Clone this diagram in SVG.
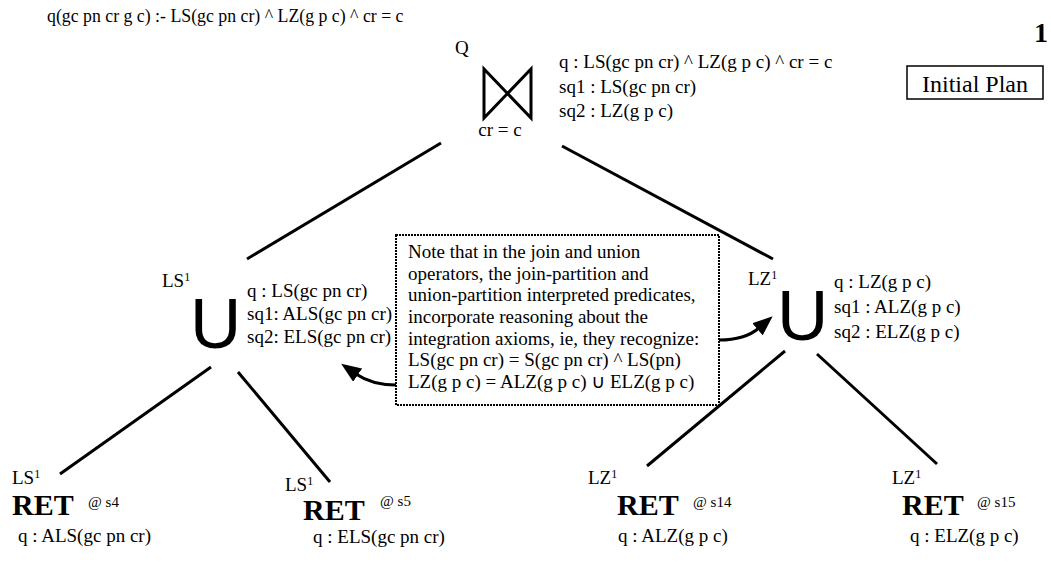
<svg xmlns="http://www.w3.org/2000/svg" width="1051" height="565" viewBox="0 0 1051 565">
<style>
text{font-family:"Liberation Serif","Times New Roman",serif;font-size:19px;fill:#000}
.sup{font-size:12px}
.ret{font-size:30px;font-weight:bold}
.at{font-size:15px}
.u{font-family:"Liberation Sans",Arial,sans-serif;font-size:71px}
.edge{stroke:#000;stroke-width:3;fill:none}
.curve{stroke:#000;stroke-width:3;fill:none}
</style>
<defs>
<marker id="ah" viewBox="0 0 20 16" refX="2" refY="8" markerWidth="20" markerHeight="16" markerUnits="userSpaceOnUse" orient="auto">
<path d="M0,0 L20,8 L0,16 z" fill="#000"/>
</marker>
</defs>
<rect width="1051" height="565" fill="#fff"/>
<text x="47" y="22" style="font-size:17.8px">q(gc pn cr g c) :- LS(gc pn cr) ^ LZ(g p c) ^ cr = c</text>
<text x="1034" y="42" style="font-size:28px;font-weight:bold">1</text>
<g id="label-initial-plan">
<rect x="907" y="66" width="136" height="33" fill="none" stroke="#000" stroke-width="1.5"/>
<text x="975" y="92" text-anchor="middle" style="font-size:24px">Initial Plan</text>
</g>
<g id="connectors">
<line class="edge" x1="441" y1="143" x2="247" y2="259"/>
<line class="edge" x1="562" y1="146" x2="773" y2="259"/>
<line class="edge" x1="211" y1="367" x2="60" y2="474"/>
<line class="edge" x1="238" y1="372" x2="330" y2="482"/>
<line class="edge" x1="785" y1="351" x2="647" y2="466"/>
<line class="edge" x1="817" y1="354" x2="937" y2="464"/>
<path class="curve" d="M396,385 Q372,385 356,374" marker-end="url(#ah)"/>
<path class="curve" d="M719,340 Q745,340 759,328" marker-end="url(#ah)"/>
</g>
<g id="join-Q">
<text x="455" y="54">Q</text>
<path d="M484,69 L484,118 L531,69 L531,118 Z" fill="none" stroke="#000" stroke-width="3" stroke-linejoin="miter"/>
<text x="500" y="136" text-anchor="middle">cr = c</text>
<text x="559" y="68">q : LS(gc pn cr) ^ LZ(g p c) ^ cr = c</text>
<text x="559" y="93">sq1 : LS(gc pn cr)</text>
<text x="559" y="117">sq2 : LZ(g p c)</text>
</g>
<g id="union-LS">
<text x="162" y="287">LS<tspan class="sup" dy="-6">1</tspan></text>
<text class="u" x="190" y="348">U</text>
<text x="247" y="297">q : LS(gc pn cr)</text>
<text x="247" y="320">sq1: ALS(gc pn cr)</text>
<text x="247" y="343">sq2: ELS(gc pn cr)</text>
</g>
<g id="union-LZ">
<text x="748" y="285">LZ<tspan class="sup" dy="-6">1</tspan></text>
<text class="u" x="777" y="340">U</text>
<text x="834" y="288">q : LZ(g p c)</text>
<text x="834" y="313">sq1 : ALZ(g p c)</text>
<text x="834" y="338">sq2 : ELZ(g p c)</text>
</g>
<g id="note">
<rect x="396" y="235" width="323" height="170" fill="#fff" stroke="#000" stroke-width="2" stroke-dasharray="2 1"/>
<text x="408" y="258">Note that in the join and union</text>
<text x="408" y="280">operators, the join-partition and</text>
<text x="408" y="301">union-partition interpreted predicates,</text>
<text x="408" y="323">incorporate reasoning about the</text>
<text x="408" y="345">integration axioms, ie, they recognize:</text>
<text x="408" y="366">LS(gc pn cr) = S(gc pn cr) ^ LS(pn)</text>
<text x="408" y="388">LZ(g p c) = ALZ(g p c) <tspan style="font-family:'DejaVu Sans',sans-serif">∪</tspan> ELZ(g p c)</text>
</g>
<g id="ret-s4">
<text x="12" y="484">LS<tspan class="sup" dy="-6">1</tspan></text>
<text class="ret" x="12" y="515">RET</text>
<text class="at" x="88" y="507">@ s4</text>
<text x="18" y="542">q : ALS(gc pn cr)</text>
</g>
<g id="ret-s5">
<text x="285" y="491">LS<tspan class="sup" dy="-6">1</tspan></text>
<text class="ret" x="303" y="520">RET</text>
<text class="at" x="380" y="506">@ s5</text>
<text x="313" y="543">q : ELS(gc pn cr)</text>
</g>
<g id="ret-s14">
<text x="588" y="484">LZ<tspan class="sup" dy="-6">1</tspan></text>
<text class="ret" x="617" y="515">RET</text>
<text class="at" x="693" y="507">@ s14</text>
<text x="618" y="542">q : ALZ(g p c)</text>
</g>
<g id="ret-s15">
<text x="892" y="484">LZ<tspan class="sup" dy="-6">1</tspan></text>
<text class="ret" x="902" y="515">RET</text>
<text class="at" x="977" y="507">@ s15</text>
<text x="910" y="542">q : ELZ(g p c)</text>
</g>
</svg>
